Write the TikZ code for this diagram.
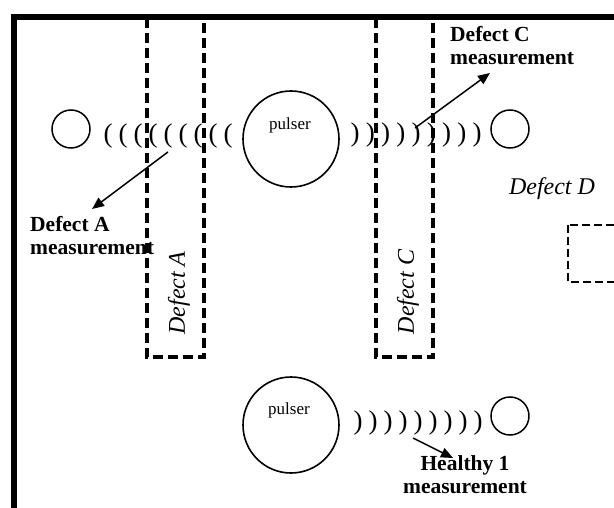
\documentclass[tikz,border=0pt]{standalone}
\usepackage{fontspec}
\setmainfont{Liberation Serif}
\usetikzlibrary{arrows.meta}
\begin{document}
\begin{tikzpicture}[x=1pt,y=-1pt,
  defectbox/.style={draw,line width=3.2pt,dash pattern=on 10pt off 5pt},
  smallbox/.style={draw,line width=2.2pt,dash pattern=on 8pt off 4pt},
  sensor/.style={circle,draw,line width=1.5pt,minimum size=38pt,inner sep=0pt},
  pulsercirc/.style={circle,draw,line width=1.6pt,minimum size=96pt,inner sep=0pt},
  pulsertxt/.style={inner sep=0pt,font=\fontsize{17}{19}\selectfont},
  paren/.style={inner sep=0pt,font=\fontsize{27}{29}\selectfont},
  meas/.style={inner sep=0pt,align=left,font=\fontsize{21.5}{23.5}\selectfont\bfseries},
  deflabel/.style={inner sep=0pt,font=\fontsize{24}{26}\selectfont\itshape},
  arr/.style={line width=1.5pt,-{Triangle[length=12pt,width=10pt]}}]
\useasboundingbox (0,0) rectangle (614,508);
\fill[white] (0,0) rectangle (614,508);
% defect zones
\draw[defectbox] (147,18) rectangle (204,357);
\draw[defectbox] (376,18) rectangle (433,357);
\draw[smallbox] (568,225) rectangle (630,282);
% border
\draw[line width=5.5pt,line join=miter] (14,520) -- (14,17) -- (630,17);
% rotated labels
\node[deflabel,rotate=90] (dA) at (179,293) {Defect A};
\node[deflabel,rotate=90] (dC) at (408,292) {Defect C};
\node[deflabel] (dD) at (552,189) {Defect D};
% sensors and pulsers
\node[sensor] (s1) at (71,129) {};
\node[sensor] (s2) at (510,129) {};
\node[sensor] (s3) at (510,416) {};
\node[pulsercirc] (p1) at (291,139) {};
\node[pulsercirc] (p2) at (291,425) {};
\node[pulsertxt] (pt1) at (290,125) {pulser};
\node[pulsertxt] (pt2) at (289,410) {pulser};
% waves
\foreach \i in {0,...,8}{
  \node[paren] (wl\i) at ({108+15*\i},136) {(};
  \node[paren] (wr\i) at ({355+15.25*\i},135) {)};
  \node[paren] (wb\i) at ({358+15*\i},423) {)};
}
% measurement labels
\node[meas,anchor=north west] (mC) at (450,26) {Defect C\\measurement};
\node[meas,anchor=north west] (mA) at (30,216) {Defect A\\measurement};
\node[meas,anchor=north,align=center] (mH) at (465,455) {Healthy 1\\measurement};
% arrows
\coordinate (a0) at (168,152);
\coordinate (a1) at (92,209);
\coordinate (c0) at (415,128);
\coordinate (c1) at (490,73);
\coordinate (h0) at (413,438);
\coordinate (h1) at (453,458);
\draw[arr] (a0) -- (a1);
\draw[arr] (c0) -- (c1);
\draw[arr] (h0) -- (h1);
\end{tikzpicture}
\end{document}
